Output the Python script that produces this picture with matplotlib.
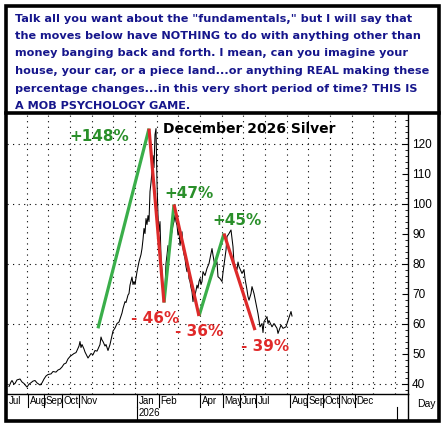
import matplotlib
matplotlib.use("Agg")
import matplotlib.pyplot as plt
import numpy as np

# daily closes (bar index, price)
bars = [2, 4, 5, 7, 8, 10, 13, 15, 17, 20, 22, 23, 26, 28, 30, 33, 35, 37, 39, 41,
        44, 46, 49, 51, 53, 55, 57, 59, 61, 63, 65, 67, 69, 70, 72, 73, 74, 75, 77, 78,
        80, 81, 83, 84, 86, 88, 90, 91, 93, 94, 95, 96, 98, 99, 101, 103, 105, 106, 108, 110,
        112, 113, 115, 116, 118, 119, 121, 122, 123, 125, 126, 127, 128, 130, 131, 132, 134, 135, 136, 137,
        138, 139, 140, 141, 142, 143, 144, 145, 146, 147, 148, 149, 150, 151, 152, 153, 154, 155, 156, 157,
        158, 159, 160, 161, 162, 163, 164, 165, 166, 167, 168, 169, 170, 171, 172, 173, 174, 175, 176, 177,
        178, 179, 180, 181, 182, 183, 184, 185, 186, 187, 188, 189, 190, 191, 192, 193, 194, 195, 196, 198,
        200, 202, 203, 205, 206, 208, 210, 211, 213, 215, 216, 218, 219, 220, 222, 224, 226, 227, 230, 231,
        232, 235, 237, 238, 240, 241, 242, 244, 245, 247, 249, 251, 253, 255, 256, 257, 260, 261, 262, 265,
        267, 270, 271, 274, 276, 279, 281, 284, 285]
prices = [39, 40.5, 41, 39.8, 40, 41.2, 41.5, 40.5, 40, 38.8, 39.8, 40, 40.8, 41, 40.2, 39.5, 40.2, 41.5, 42.5, 43,
          43.2, 44, 43.8, 44.5, 44.8, 45.5, 46.5, 46.8, 48.2, 49, 49.5, 50, 50.3, 51, 52.5, 54, 52, 53, 51.5, 50.5,
          49.2, 48.5, 49.5, 50, 49.6, 51, 50.8, 51.5, 53, 55.5, 54.5, 54, 52.5, 53, 51, 53, 56, 57.5, 58.5, 60,
          60.5, 61.5, 63.5, 65, 67.3, 67, 69.5, 70, 72.8, 75.5, 73, 74, 73, 77.3, 79, 80.6, 83, 85, 88, 91.7,
          90, 95, 93, 96, 94, 104, 107, 110.6, 116, 112, 123, 125, 107, 96, 90.6, 94, 82, 77.3, 71.7, 68.5,
          72, 80, 82.8, 86, 84, 87, 89, 91, 92.8, 94, 96.2, 94, 92.8, 89.5, 91, 86, 88, 90.6, 85, 83,
          81.7, 79, 77.3, 79, 75, 74, 72, 70.6, 67.3, 70, 69.5, 71, 72.8, 71.8, 74, 75, 73, 74, 77.3, 76,
          78.4, 80, 81.7, 85, 82.8, 79, 80.6, 75.6, 75, 74, 77, 82, 84.5, 89, 90, 91.2, 85.6, 80, 78, 80.5,
          79, 76.7, 78, 75, 71.2, 69, 67.8, 70, 72.3, 70, 66.6, 63.3, 58.9, 60, 57, 60.6, 62.3, 60, 61, 58.9,
          60, 58.4, 56.7, 59.5, 58.4, 58.9, 61, 64, 62.5]

# swing lines: (start bar, start price, end bar, end price)
up_swings = [(91, 58.4, 142, 125), (157, 67, 167, 99.7), (192, 62.5, 217, 90)]
down_swings = [(142, 125, 157, 67), (167, 99.7, 192, 62.5), (217, 90, 248, 57.8)]
up_labels = ["+148%", "+47%", "+45%"]
up_label_pos = [(92, 122.5), (182, 103.2), (230, 94.5)]
down_labels = ["- 46%", "- 36%", "- 39%"]
down_label_pos = [(148, 61.8), (192, 57.2), (258, 52.2)]

month_names = ["Jul", "Aug", "Sep", "Oct", "Nov", "Jan", "Feb", "Apr", "May", "Jun",
               "Jul", "Aug", "Sep", "Oct", "Nov", "Dec"]
month_bars = [0, 21, 37, 55, 72, 130, 152, 193, 216, 233, 249, 283, 300, 316, 332, 348]

header = [
    'Talk all you want about the "fundamentals," but I will say that',
    "the moves below have NOTHING to do with anything other than",
    "money banging back and forth. I mean, can you imagine your",
    "house, your car, or a piece land...or anything REAL making these",
    "percentage changes...in this very short period of time? THIS IS",
    "A MOB PSYCHOLOGY GAME.",
]

W, H = 444, 428
fig = plt.figure(figsize=(W / 100, H / 100), dpi=100)


def fx(px):
    return px / W


def fy(py):
    return 1 - py / H


ax = fig.add_axes([fx(7), fy(394), fx(408) - fx(7), fy(113) - fy(394)])
ax.set_xlim(0, 401)
ax.set_ylim(36.5, 130.2)

# dotted grid
for g in [40, 60, 80, 100, 120]:
    ax.axhline(g, color="black", lw=0.8, ls=(0, (1, 4)), zorder=1)
for g in np.arange(19.7, 400, 21.67):
    ax.axvline(g, color="black", lw=0.8, ls=(0, (1, 4)), zorder=1)

ax.plot(bars, prices, color="black", lw=0.75, zorder=2)

for (x0, y0, x1, y1) in up_swings:
    ax.plot([x0, x1], [y0, y1], color="#3aae4a", lw=2.3, solid_capstyle="butt", zorder=3)
for (x0, y0, x1, y1) in down_swings:
    ax.plot([x0, x1], [y0, y1], color="#dd2a2a", lw=2.3, solid_capstyle="butt", zorder=4)

for t, (x, y) in zip(up_labels, up_label_pos):
    ax.text(x, y, t, color="#2a8f2a", fontsize=11, fontweight="bold", ha="center", va="center")
for t, (x, y) in zip(down_labels, down_label_pos):
    ax.text(x, y, t, color="#e02a2a", fontsize=11, fontweight="bold", ha="center", va="center")

ax.text(156, 124.8, "December 2026 Silver", fontsize=10, fontweight="bold", ha="left", va="center")

# right price axis
ax.yaxis.tick_right()
ax.set_yticks(np.arange(40, 121, 10))
ax.set_yticks(np.arange(38, 130, 2), minor=True)
ax.tick_params(axis="y", which="major", direction="in", length=4, width=0.8, pad=3,
               labelsize=8.5, labelfontfamily="Liberation Sans")
ax.tick_params(axis="y", which="minor", direction="in", length=2, width=0.6)
ax.set_xticks([])
for s in ["left", "top"]:
    ax.spines[s].set_visible(False)
ax.spines["right"].set_linewidth(1)
ax.spines["bottom"].set_linewidth(1)

# month strip below the plot
tr = ax.get_xaxis_transform()
y_row1 = -13 / 281
y_row2 = -26 / 281
for b, name in zip(month_bars, month_names):
    if b > 0:
        ax.plot([b, b], [0, y_row1], color="black", lw=0.8, transform=tr, clip_on=False)
    ax.text(b + 1.5, y_row1 / 2, name, transform=tr, fontsize=7, family="Liberation Sans",
            ha="left", va="center")
ax.plot([130, 130], [y_row1, y_row2], color="black", lw=0.8, transform=tr, clip_on=False)
ax.plot([390, 390], [y_row1, y_row2], color="black", lw=0.8, transform=tr, clip_on=False)
ax.plot([401, 401], [0, y_row2], color="black", lw=1, transform=tr, clip_on=False)
ax.text(131.5, (y_row1 + y_row2) / 2, "2026", transform=tr, fontsize=7, family="Liberation Sans",
        ha="left", va="center")
fig.text(fx(426), fy(404), "Day", fontsize=7.5, family="Liberation Sans", ha="center", va="center")

# header text
for i, line in enumerate(header):
    fig.text(fx(15), fy(18.5 + i * 17.5), line, color="#16168c", fontsize=8.1,
             fontweight="bold", ha="left", va="center")

# outer frame and header separator
fig.add_artist(plt.Rectangle((fx(6), fy(421)), fx(439) - fx(6), fy(6) - fy(421),
                             transform=fig.transFigure, fill=False, lw=2.6, ec="black"))
fig.add_artist(plt.Line2D([fx(6), fx(439)], [fy(112.5), fy(112.5)],
                          transform=fig.transFigure, lw=2.6, color="black"))

fig.savefig("out.png", dpi=100)
